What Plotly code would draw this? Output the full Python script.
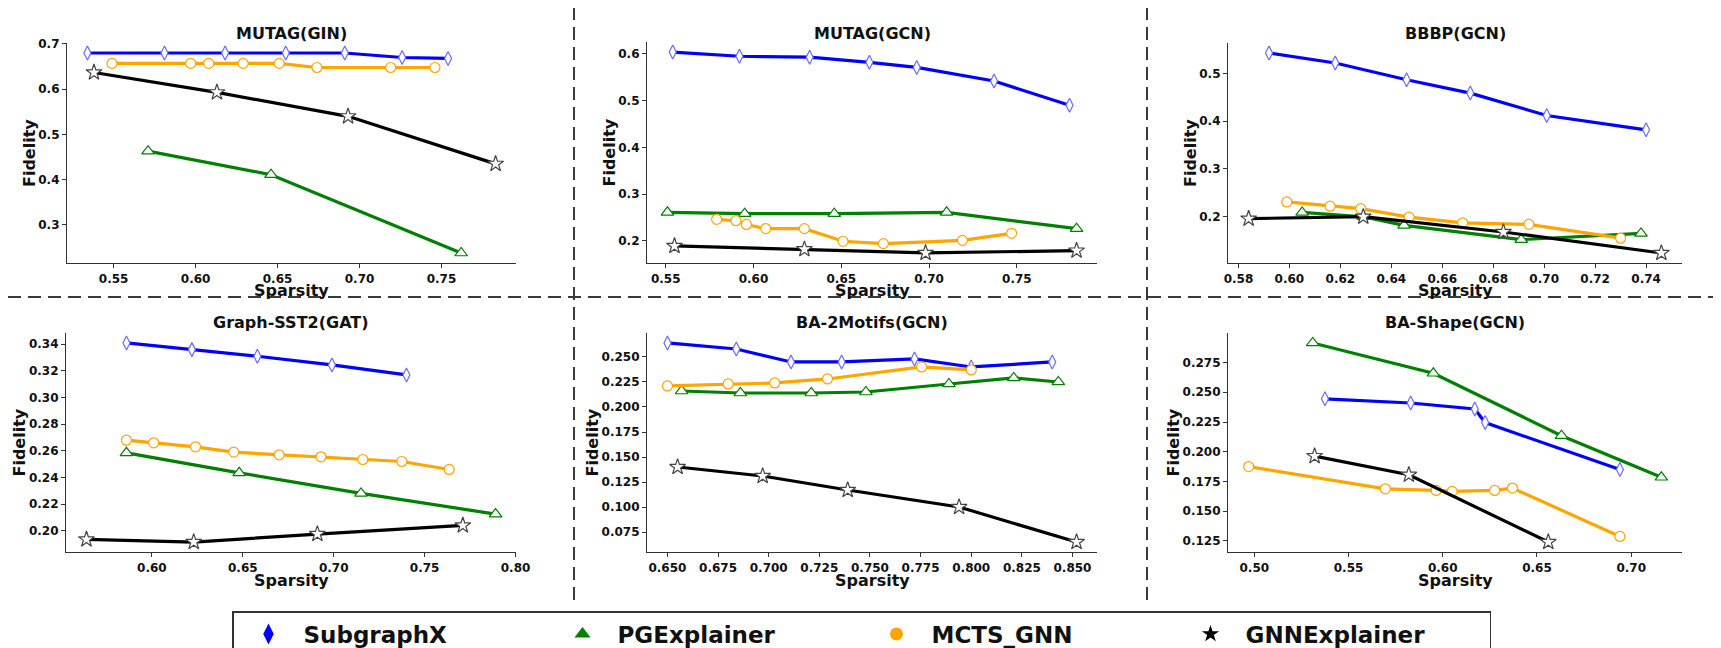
import plotly.graph_objects as go

# The page body adds an 8px margin, so the figure is sized to the window minus that margin
OFF = 8
W, H = 1721 - OFF, 648 - OFF

def px(x):
    return (x - OFF) / W

def py(y):
    return 1 - (y - OFF) / H

# ---------------- data ----------------
methods = ["SubgraphX", "PGExplainer", "MCTS_GNN", "GNNExplainer"]
colors = {"SubgraphX": "#0000FF", "PGExplainer": "#008000", "MCTS_GNN": "#FFA500", "GNNExplainer": "#000000"}
titles = ["MUTAG(GIN)", "MUTAG(GCN)", "BBBP(GCN)", "Graph-SST2(GAT)", "BA-2Motifs(GCN)", "BA-Shape(GCN)"]

# MUTAG(GIN)
p1_sub_x = [0.534, 0.581, 0.618, 0.655, 0.691, 0.726, 0.754]
p1_sub_y = [0.680, 0.680, 0.680, 0.680, 0.680, 0.670, 0.668]
p1_pg_x = [0.571, 0.646, 0.762]
p1_pg_y = [0.463, 0.411, 0.238]
p1_mcts_x = [0.549, 0.597, 0.608, 0.629, 0.651, 0.674, 0.719, 0.746]
p1_mcts_y = [0.657, 0.657, 0.657, 0.657, 0.657, 0.648, 0.648, 0.648]
p1_gnn_x = [0.538, 0.613, 0.693, 0.783]
p1_gnn_y = [0.637, 0.593, 0.540, 0.435]

# MUTAG(GCN)
p2_sub_x = [0.554, 0.592, 0.632, 0.666, 0.693, 0.737, 0.780]
p2_sub_y = [0.604, 0.595, 0.593, 0.582, 0.571, 0.542, 0.490]
p2_pg_x = [0.551, 0.595, 0.646, 0.710, 0.784]
p2_pg_y = [0.261, 0.258, 0.258, 0.261, 0.226]
p2_mcts_x = [0.579, 0.590, 0.596, 0.607, 0.629, 0.651, 0.674, 0.719, 0.747]
p2_mcts_y = [0.246, 0.243, 0.235, 0.226, 0.226, 0.199, 0.194, 0.201, 0.216]
p2_gnn_x = [0.555, 0.629, 0.698, 0.784]
p2_gnn_y = [0.189, 0.182, 0.174, 0.179]

# BBBP(GCN)
p3_sub_x = [0.592, 0.618, 0.646, 0.671, 0.701, 0.740]
p3_sub_y = [0.543, 0.522, 0.487, 0.459, 0.412, 0.382]
p3_pg_x = [0.605, 0.629, 0.645, 0.691, 0.738]
p3_pg_y = [0.209, 0.200, 0.182, 0.152, 0.165]
p3_mcts_x = [0.599, 0.616, 0.628, 0.647, 0.668, 0.694, 0.730]
p3_mcts_y = [0.231, 0.222, 0.217, 0.199, 0.187, 0.184, 0.155]
p3_gnn_x = [0.584, 0.629, 0.684, 0.746]
p3_gnn_y = [0.196, 0.200, 0.168, 0.124]

# Graph-SST2(GAT)
p4_sub_x = [0.586, 0.622, 0.658, 0.699, 0.740]
p4_sub_y = [0.341, 0.336, 0.331, 0.3245, 0.317]
p4_pg_x = [0.586, 0.648, 0.715, 0.789]
p4_pg_y = [0.2585, 0.2435, 0.228, 0.2125]
p4_mcts_x = [0.586, 0.601, 0.624, 0.645, 0.670, 0.693, 0.716, 0.7375, 0.7635]
p4_mcts_y = [0.268, 0.266, 0.263, 0.259, 0.257, 0.2555, 0.2535, 0.252, 0.246]
p4_gnn_x = [0.564, 0.623, 0.691, 0.771]
p4_gnn_y = [0.1935, 0.1915, 0.1975, 0.204]

# BA-2Motifs(GCN)
p5_sub_x = [0.650, 0.684, 0.711, 0.736, 0.772, 0.800, 0.840]
p5_sub_y = [0.264, 0.258, 0.245, 0.245, 0.248, 0.240, 0.245]
p5_pg_x = [0.657, 0.686, 0.721, 0.748, 0.789, 0.821, 0.843]
p5_pg_y = [0.216, 0.214, 0.214, 0.215, 0.223, 0.229, 0.225]
p5_mcts_x = [0.650, 0.680, 0.703, 0.729, 0.7755, 0.800]
p5_mcts_y = [0.221, 0.223, 0.224, 0.228, 0.240, 0.237]
p5_gnn_x = [0.655, 0.697, 0.739, 0.794, 0.852]
p5_gnn_y = [0.140, 0.131, 0.117, 0.100, 0.065]

# BA-Shape(GCN)
p6_sub_x = [0.5375, 0.583, 0.617, 0.6225, 0.694]
p6_sub_y = [0.2445, 0.241, 0.236, 0.2245, 0.185]
p6_pg_x = [0.531, 0.595, 0.663, 0.716]
p6_pg_y = [0.2915, 0.266, 0.2135, 0.1785]
p6_mcts_x = [0.497, 0.5695, 0.5965, 0.605, 0.6275, 0.637, 0.694]
p6_mcts_y = [0.1875, 0.1688, 0.1674, 0.1666, 0.1674, 0.1694, 0.1287]
p6_gnn_x = [0.532, 0.582, 0.656]
p6_gnn_y = [0.1963, 0.1806, 0.124]

# tick labels
p1_xticks = [0.55, 0.60, 0.65, 0.70, 0.75]
p1_yticks = [0.3, 0.4, 0.5, 0.6, 0.7]
p2_xticks = [0.55, 0.60, 0.65, 0.70, 0.75]
p2_yticks = [0.2, 0.3, 0.4, 0.5, 0.6]
p3_xticks = [0.58, 0.60, 0.62, 0.64, 0.66, 0.68, 0.70, 0.72, 0.74]
p3_yticks = [0.2, 0.3, 0.4, 0.5]
p4_xticks = [0.60, 0.65, 0.70, 0.75, 0.80]
p4_yticks = [0.20, 0.22, 0.24, 0.26, 0.28, 0.30, 0.32, 0.34]
p5_xticks = [0.650, 0.675, 0.700, 0.725, 0.750, 0.775, 0.800, 0.825, 0.850]
p5_yticks = [0.075, 0.100, 0.125, 0.150, 0.175, 0.200, 0.225, 0.250]
p6_xticks = [0.50, 0.55, 0.60, 0.65, 0.70]
p6_yticks = [0.125, 0.150, 0.175, 0.200, 0.225, 0.250, 0.275, 0.300]

panels = [
    dict(sub=(p1_sub_x, p1_sub_y), pg=(p1_pg_x, p1_pg_y), mcts=(p1_mcts_x, p1_mcts_y), gnn=(p1_gnn_x, p1_gnn_y),
         xt=p1_xticks, yt=p1_yticks, xf=".2f", yf=".1f"),
    dict(sub=(p2_sub_x, p2_sub_y), pg=(p2_pg_x, p2_pg_y), mcts=(p2_mcts_x, p2_mcts_y), gnn=(p2_gnn_x, p2_gnn_y),
         xt=p2_xticks, yt=p2_yticks, xf=".2f", yf=".1f"),
    dict(sub=(p3_sub_x, p3_sub_y), pg=(p3_pg_x, p3_pg_y), mcts=(p3_mcts_x, p3_mcts_y), gnn=(p3_gnn_x, p3_gnn_y),
         xt=p3_xticks, yt=p3_yticks, xf=".2f", yf=".1f"),
    dict(sub=(p4_sub_x, p4_sub_y), pg=(p4_pg_x, p4_pg_y), mcts=(p4_mcts_x, p4_mcts_y), gnn=(p4_gnn_x, p4_gnn_y),
         xt=p4_xticks, yt=p4_yticks, xf=".2f", yf=".2f"),
    dict(sub=(p5_sub_x, p5_sub_y), pg=(p5_pg_x, p5_pg_y), mcts=(p5_mcts_x, p5_mcts_y), gnn=(p5_gnn_x, p5_gnn_y),
         xt=p5_xticks, yt=p5_yticks, xf=".3f", yf=".3f"),
    dict(sub=(p6_sub_x, p6_sub_y), pg=(p6_pg_x, p6_pg_y), mcts=(p6_mcts_x, p6_mcts_y), gnn=(p6_gnn_x, p6_gnn_y),
         xt=p6_xticks, yt=p6_yticks, xf=".2f", yf=".3f"),
]

# ---------------- layout geometry (window pixels) ----------------
boxes = [  # (left, right, top, bottom)
    (67, 516, 43, 263), (647, 1097, 42, 263), (1228, 1682, 43, 263),
    (66, 516, 333, 552), (647, 1097, 333, 552), (1228, 1682, 333, 552),
]
ylabel_off = [38, 38, 38, 47, 55, 55]

FONT = "DejaVu Sans"
TXT = "#111111"

series_style = {
    "sub": ("SubgraphX", "diamond-tall", 10),
    "pg": ("PGExplainer", "triangle-up", 11),
    "mcts": ("MCTS_GNN", "circle", 10),
    "gnn": ("GNNExplainer", "star", 12),
}
edge_colors = {"sub": "#6a6aff", "pg": "#008000", "mcts": "#FFA500", "gnn": "#444444"}

fig = go.Figure()
annotations = []
layout_axes = {}

def mpl_range(vals):
    lo, hi = min(vals), max(vals)
    pad = 0.05 * (hi - lo)
    return [lo - pad, hi + pad]

for i, p in enumerate(panels):
    n = i + 1
    xa = "x" if n == 1 else f"x{n}"
    ya = "y" if n == 1 else f"y{n}"
    allx, ally = [], []
    for key in ["sub", "pg", "mcts", "gnn"]:
        name, sym, sz = series_style[key]
        xs, ys = p[key]
        allx += xs
        ally += ys
        fig.add_trace(go.Scatter(
            x=xs, y=ys, mode="lines+markers", name=name, showlegend=False,
            xaxis=xa, yaxis=ya,
            line=dict(color=colors[name], width=3.2),
            marker=dict(symbol=sym, size=sz, color="white", line=dict(color=edge_colors[key], width=1.2)),
        ))
    l, r, t, b = boxes[i]
    common = dict(showgrid=False, zeroline=False, showline=True, linecolor="#333333", linewidth=1.2,
                  ticks="outside", ticklen=4, tickwidth=1.2, tickcolor="#333333",
                  tickfont=dict(family=FONT, size=12, color=TXT, weight="bold"))
    layout_axes["xaxis" if n == 1 else f"xaxis{n}"] = dict(
        domain=[px(l), px(r)], anchor=ya, range=mpl_range(allx),
        tickmode="array", tickvals=p["xt"], ticktext=[format(v, p["xf"]) for v in p["xt"]], **common)
    layout_axes["yaxis" if n == 1 else f"yaxis{n}"] = dict(
        domain=[py(b), py(t)], anchor=xa, range=mpl_range(ally),
        tickmode="array", tickvals=p["yt"], ticktext=[format(v, p["yf"]) for v in p["yt"]], **common)

    cx = (l + r) / 2
    title_y = 33 if i < 3 else 322
    spars_y = 290 if i < 3 else 580
    annotations.append(dict(text=titles[i], x=px(cx), y=py(title_y), xref="paper", yref="paper",
                            showarrow=False, xanchor="center", yanchor="middle",
                            font=dict(family=FONT, size=16, color=TXT, weight="bold")))
    annotations.append(dict(text="Sparsity", x=px(cx), y=py(spars_y), xref="paper", yref="paper",
                            showarrow=False, xanchor="center", yanchor="middle",
                            font=dict(family=FONT, size=16, color=TXT, weight="bold")))
    annotations.append(dict(text="Fidelity", x=px(l - ylabel_off[i]), y=py((t + b) / 2),
                            xref="paper", yref="paper", showarrow=False, textangle=-90,
                            xanchor="center", yanchor="middle",
                            font=dict(family=FONT, size=16, color=TXT, weight="bold")))

# legend proxy traces (filled markers)
legend_sym = {"SubgraphX": ("diamond-tall", 15), "PGExplainer": ("triangle-up", 14),
              "MCTS_GNN": ("circle", 13), "GNNExplainer": ("star", 13)}
for m in methods:
    sym, sz = legend_sym[m]
    fig.add_trace(go.Scatter(x=[None], y=[None], mode="markers", name=m, showlegend=True,
                             marker=dict(symbol=sym, size=sz, color=colors[m], line=dict(width=0))))

shapes = []
dash_style = dict(color="#3a3a3a", width=2, dash="13px,7px")
shapes.append(dict(type="line", xref="paper", yref="paper", x0=0, x1=1, y0=py(297), y1=py(297),
                   line=dash_style, layer="above"))
for vx in [574, 1147]:
    shapes.append(dict(type="line", xref="paper", yref="paper", x0=px(vx), x1=px(vx), y0=py(600), y1=1,
                       line=dash_style, layer="above"))

fig.update_layout(
    width=W, height=H,
    margin=dict(l=0, r=0, t=0, b=0, autoexpand=False),
    plot_bgcolor="white", paper_bgcolor="white",
    showlegend=True,
    legend=dict(orientation="h", x=px(232), y=py(611), xanchor="left", yanchor="top",
                bordercolor="#333333", borderwidth=1.5, bgcolor="white",
                itemwidth=60, entrywidth=239, entrywidthmode="pixels",
                font=dict(family=FONT, size=23, color=TXT, weight="bold"),
                traceorder="normal", itemclick=False, itemdoubleclick=False),
    annotations=annotations,
    shapes=shapes,
    **layout_axes,
)

fig.write_html("out.html")
